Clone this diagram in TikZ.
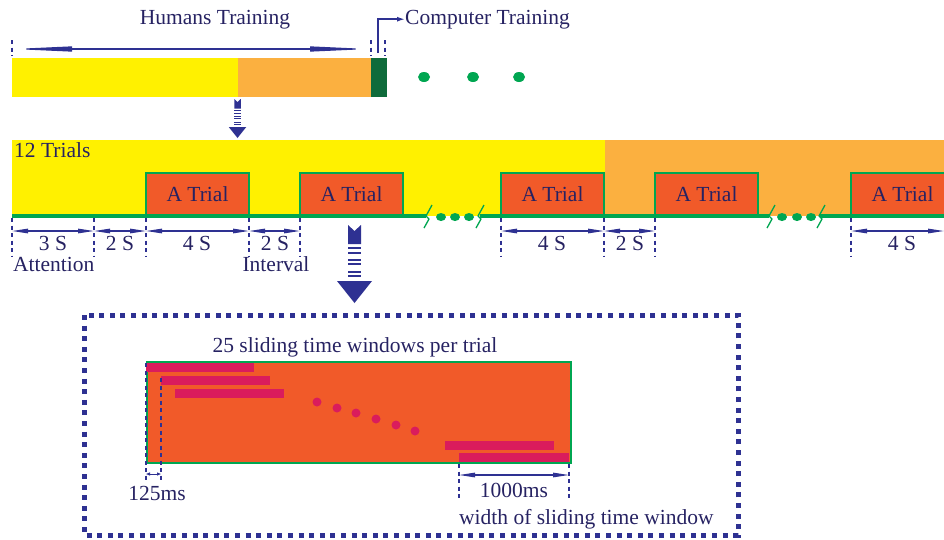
\documentclass[tikz,border=0pt]{standalone}
\usepackage{fontspec}
\setmainfont{Liberation Serif}
\usetikzlibrary{arrows.meta}
\definecolor{navy}{HTML}{2E3192}
\definecolor{txt}{HTML}{262262}
\definecolor{yel}{HTML}{FFF100}
\definecolor{org}{HTML}{FBB040}
\definecolor{trialc}{HTML}{F15A29}
\definecolor{dgreen}{HTML}{0F6B3B}
\definecolor{lgreen}{HTML}{00A651}
\definecolor{mag}{HTML}{DA1C5C}
\tikzset{
  stripearrow/.pic={
    \fill[navy] (-6.5,0) -- (0,6) -- (6.5,0) -- (6.5,19) -- (-6.5,19) -- cycle;
    \foreach \yy in {22,27,34,38,46,50} \fill[navy] (-6.5,\yy) rectangle (6.5,\yy+2);
    \fill[navy] (-17.5,56) -- (17.5,56) -- (0,78) -- cycle;
  },
  brk/.pic={\draw[lgreen, line width=1.3pt, line join=round] (6,-11) -- (0,0) -- (3,3) -- (-2,12);}
}
\begin{document}
\begin{tikzpicture}[x=1pt,y=-1pt,
  font=\fontsize{21.5}{24}\selectfont,
  every node/.style={text=txt, inner sep=0pt},
  ext/.style={navy, line width=1.2pt, dash pattern=on 4pt off 3.5pt},
  dim/.style={navy, line width=1.2pt, {Triangle[length=16pt,width=4.5pt]}-{Triangle[length=16pt,width=4.5pt]}},
  trial/.style={fill=trialc, draw=lgreen, line width=1.5pt, minimum width=103pt, minimum height=42pt, inner sep=0pt},
  gline/.style={lgreen, line width=4.5pt},
  gdot/.style={lgreen},
  win/.style={fill=mag},
  mdot/.style={fill=mag}
]
\useasboundingbox (0,0) rectangle (944,539);

% ---------- top bar ----------
\node[anchor=base] (ht) at (215,24) {Humans Training};
\node[anchor=base west] (ctl) at (405,24) {Computer Training};
\fill[yel] (12,58) rectangle (238,97);
\fill[org] (238,58) rectangle (371,97);
\fill[dgreen] (371,58) rectangle (387,97);
\foreach \xx in {424,473,519} \fill[gdot] (\xx,77) ellipse (6pt and 5pt);

\coordinate (h1) at (12,49);
\coordinate (h2) at (370,49);
\coordinate (cm) at (378,53);
\draw[ext] (12,40) -- (12,56);
\draw[ext] (371,40) -- (371,56);
\draw[ext] (385,40) -- (385,56);
\draw[navy, line width=1.2pt, {Triangle[length=60pt,width=5pt]}-{Triangle[length=60pt,width=5pt]}] (h1) -- (h2);
\draw[navy, line width=1.5pt, -{Latex[length=8pt,width=5pt]}] (cm) |- (ctl.west);

\pic[scale=0.5] at (237.5,99) {stripearrow};

% ---------- trials band ----------
\fill[yel] (12,140) rectangle (605,216);
\fill[org] (605,140) rectangle (944,216);
\node[anchor=base west] (tr12) at (14,157) {12 Trials};

\node[trial] (t1) at (197.5,194) {A Trial};
\node[trial] (t2) at (351.5,194) {A Trial};
\node[trial] (t3) at (552.5,194) {A Trial};
\node[trial] (t4) at (706.5,194) {A Trial};
\node[trial] (t5) at (902.5,194) {A Trial};

\draw[gline] (12,216) -- (426,216);
\draw[gline] (480,216) -- (769,216);
\draw[gline] (820,216) -- (944,216);
\pic at (426,216) {brk};
\pic at (478,216) {brk};
\pic at (769,216) {brk};
\pic at (819,216) {brk};
\foreach \xx in {441,455,469,782,797,811} \fill[gdot] (\xx,217) ellipse (5pt and 4pt);

% extension lines
\foreach \xx in {12,94,146,249,300,501,604,655,851}
  \draw[ext] (\xx,218) -- (\xx,256);

% dimension arrows
\draw[dim] (12,231) -- (94,231);
\draw[dim] (94,231) -- (146,231);
\draw[dim] (146,231) -- (249,231);
\draw[dim] (249,231) -- (300,231);
\draw[dim] (501,231) -- (604,231);
\draw[dim] (604,231) -- (655,231);
\draw[dim] (851,231) -- (944,231);

\node (d1) at (53,243) {3 S};
\node (d2) at (120,243) {2 S};
\node (d3) at (197,243) {4 S};
\node (d4) at (275,243) {2 S};
\node (d5) at (552,243) {4 S};
\node (d6) at (630,243) {2 S};
\node (d7) at (902,243) {4 S};
\node[anchor=west] (att) at (13,264) {Attention};
\node (intv) at (276,264) {Interval};

\pic at (354.5,225) {stripearrow};

% ---------- sliding windows box ----------
\draw[navy, line width=5pt, dash pattern=on 5pt off 5.6pt] (84,315) rectangle (738,535);
\node[anchor=base] (title) at (355,352) {25 sliding time windows per trial};
\node[fill=trialc, draw=lgreen, line width=1.5pt, minimum width=424pt, minimum height=101pt, anchor=north west] (trialbig) at (146,361) {};

\fill[win] (146,363) rectangle (254,372);
\fill[win] (161,376) rectangle (270,385);
\fill[win] (175,389) rectangle (284,398);
\fill[win] (445,441) rectangle (554,450);
\fill[win] (459,453) rectangle (569,462);
\foreach \xx/\yy in {317/402,337/408,356/413,376/419,396/425,415/431}
  \fill[mdot] (\xx,\yy) circle (4.5pt);

% 125ms
\draw[ext] (146,363) -- (146,482);
\draw[ext] (161,378) -- (161,482);
\draw[navy, line width=1pt, {Triangle[length=4pt,width=3pt]}-{Triangle[length=4pt,width=3pt]}] (146,474) -- (161,474);
\node (ms125) at (157,493) {125ms};

% 1000ms
\draw[ext] (459,464) -- (459,500);
\draw[ext] (569,464) -- (569,500);
\draw[dim] (459,475) -- (569,475);
\node (ms1000) at (514,490) {1000ms};
\node[anchor=base west] (wlab) at (459,524) {width of sliding time window};
\end{tikzpicture}
\end{document}
